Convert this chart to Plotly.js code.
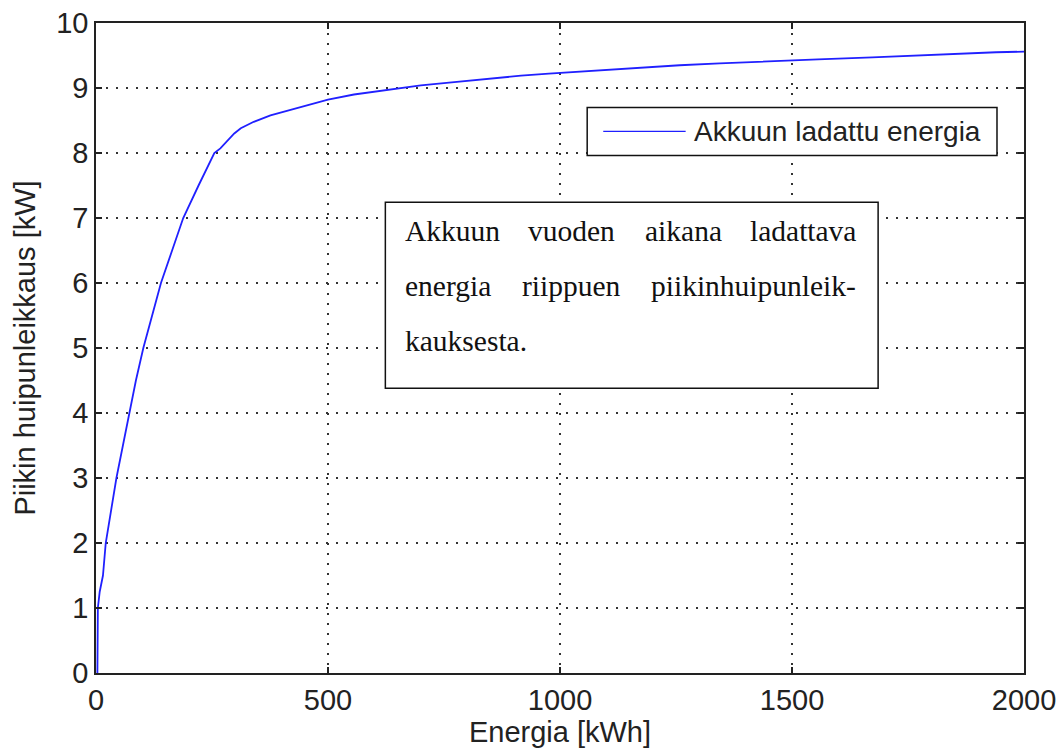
<!DOCTYPE html>
<html>
<head>
<meta charset="utf-8">
<script src="https://cdn.plot.ly/plotly-3.0.1.min.js"></script>
<style>
  html, body { margin: 0; padding: 0; background: #fff; }
  #chart { width: 1057px; height: 752px; }
</style>
</head>
<body>
<div id="chart"></div>
<script>
// Energy charged into the battery over a year vs. peak shaving level
const energyKWh = [3, 4, 8, 15, 21, 32, 44, 58, 72, 86, 102, 121, 140, 164, 188, 221, 255, 268, 298, 312, 340, 376, 412, 448, 500, 556, 628, 700, 772, 844, 916, 976, 1036, 1106, 1174, 1258, 1344, 1440, 1556, 1673, 1797, 1940, 2000];
const peakCutKW = [0, 1.0, 1.25, 1.5, 2.0, 2.5, 3.0, 3.5, 4.0, 4.5, 5.0, 5.5, 6.0, 6.5, 7.0, 7.5, 8.0, 8.07, 8.3, 8.38, 8.48, 8.58, 8.65, 8.73, 8.82, 8.9, 8.97, 9.04, 9.09, 9.14, 9.19, 9.22, 9.25, 9.28, 9.31, 9.35, 9.38, 9.41, 9.44, 9.47, 9.51, 9.55, 9.56];

const xTicks = [0, 500, 1000, 1500, 2000];
const yTicks = [0, 1, 2, 3, 4, 5, 6, 7, 8, 9, 10];

const seriesName = 'Akkuun ladattu energia';
const xTitle = 'Energia [kWh]';
const yTitle = 'Piikin huipunleikkaus [kW]';
const noteLines = [
  ['Akkuun', 'vuoden', 'aikana', 'ladattava'],
  ['energia', 'riippuen', 'piikinhuipunleik-'],
  ['kauksesta.']
];

const sans = 'Liberation Sans, Arial, Helvetica, sans-serif';
const serif = 'Liberation Serif, Times New Roman, serif';
const ink = '#222222';
const lineBlue = '#2020ff';

const trace = {
  x: energyKWh,
  y: peakCutKW,
  type: 'scatter',
  mode: 'lines',
  name: seriesName,
  line: { color: lineBlue, width: 1.8 },
  showlegend: false
};

const axisCommon = {
  showline: true,
  linecolor: ink,
  linewidth: 1.8,
  mirror: 'ticks',
  ticks: 'inside',
  ticklen: 6,
  tickwidth: 1.5,
  tickcolor: ink,
  showgrid: true,
  gridcolor: '#333333',
  gridwidth: 1.6,
  griddash: '2px,8px',
  zeroline: false,
  tickfont: { family: sans, size: 29, color: ink },
  fixedrange: true
};

// Legend box drawn in paper coordinates
const legendBox = { x0: 0.5293, x1: 0.9709, y0: 0.7963, y1: 0.8701 };
const legendLine = { x0: 0.5466, x1: 0.6354, y: 0.8332 };
const legendTextX = 0.6425;

// Text box with justified note
const noteBox = { x0: 0.3118, x1: 0.8428, y0: 0.4381, y1: 0.7241 };
const noteLeft = 0.3312, noteRight = 0.8212;
const noteRowsY = [0.6795, 0.595, 0.5104];
const noteMidX = [[0.5127, 0.6333], [0.5121]];

const shapes = [
  { type: 'rect', xref: 'paper', yref: 'paper', ...noteBox,
    line: { color: '#111', width: 1.5 }, fillcolor: '#ffffff', layer: 'above' },
  { type: 'rect', xref: 'paper', yref: 'paper', ...legendBox,
    line: { color: '#111', width: 1.5 }, fillcolor: '#ffffff', layer: 'above' },
  { type: 'line', xref: 'paper', yref: 'paper',
    x0: legendLine.x0, x1: legendLine.x1, y0: legendLine.y, y1: legendLine.y,
    line: { color: lineBlue, width: 1.3 }, layer: 'above' }
];

const annotations = [
  { xref: 'paper', yref: 'paper', x: legendTextX, y: legendLine.y,
    xanchor: 'left', yanchor: 'middle', showarrow: false, text: seriesName,
    font: { family: sans, size: 28, color: ink } }
];

const noteFont = { family: serif, size: 29.5, color: '#111' };
noteLines.forEach((words, row) => {
  const y = noteRowsY[row];
  words.forEach((w, i) => {
    let x, anchor;
    if (i === 0) { x = noteLeft; anchor = 'left'; }
    else if (i === words.length - 1) { x = noteRight; anchor = 'right'; }
    else { x = noteMidX[row][i - 1]; anchor = 'center'; }
    annotations.push({ xref: 'paper', yref: 'paper', x, y, xanchor: anchor,
      yanchor: 'middle', showarrow: false, text: w, font: noteFont });
  });
});

const layout = {
  width: 1057,
  height: 752,
  margin: { l: 95.5, r: 33, t: 22.5, b: 79 },
  paper_bgcolor: '#ffffff',
  plot_bgcolor: '#ffffff',
  showlegend: false,
  xaxis: Object.assign({}, axisCommon, {
    range: [0, 2000],
    tickvals: xTicks,
    ticktext: xTicks.map(String),
    title: { text: xTitle, font: { family: sans, size: 29, color: ink }, standoff: 0 }
  }),
  yaxis: Object.assign({}, axisCommon, {
    range: [0, 10],
    tickvals: yTicks,
    ticktext: yTicks.map(String),
    title: { text: yTitle, font: { family: sans, size: 29, color: ink }, standoff: 12 }
  }),
  shapes,
  annotations
};

Plotly.newPlot('chart', [trace], layout, { staticPlot: true, displayModeBar: false });
</script>
</body>
</html>
